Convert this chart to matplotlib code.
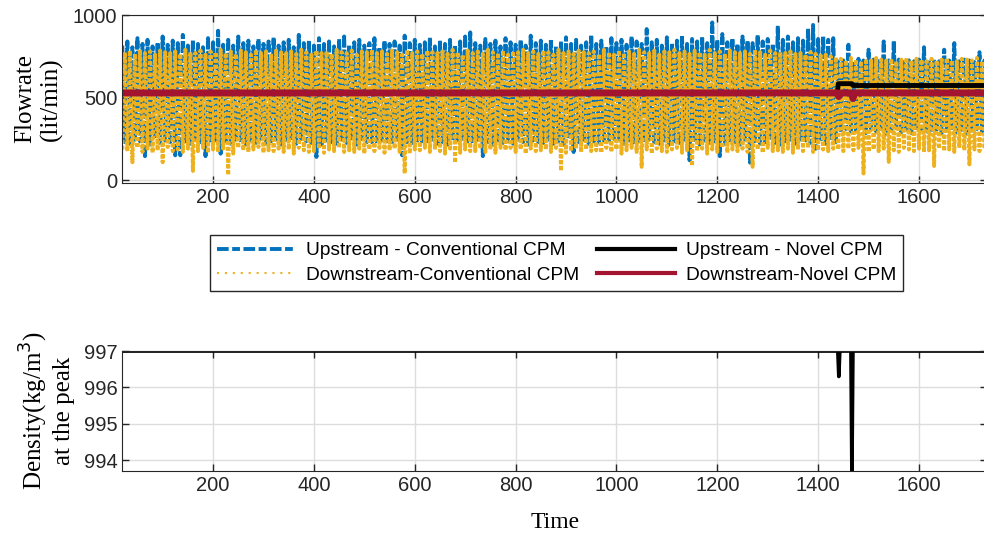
import matplotlib
matplotlib.use("Agg")
import matplotlib.pyplot as plt
from matplotlib.lines import Line2D
import numpy as np

# conventional CPM: alternating peak / trough of each ~10 s swing
up_conv_hi = [
    815, 840, 805, 860, 825, 850, 810, 835, 870, 820,
    845, 830, 880, 815, 850, 825, 805, 860, 835, 905,
    820, 850, 815, 870, 830, 845, 810, 855, 825, 840,
    865, 815, 835, 850, 805, 880, 830, 845, 815, 860,
    825, 840, 810, 855, 870, 820, 835, 850, 815, 830,
    860, 805, 845, 825, 840, 815, 875, 830, 850, 820,
    835, 865, 810, 845, 825, 850, 815, 840, 870, 895,
    830, 815, 855, 825, 845, 810, 860, 835, 820, 850,
    815, 875, 830, 845, 820, 855, 810, 840, 865, 825,
    850, 815, 835, 880, 825, 845, 810, 860, 830, 850,
    820, 870, 840, 825, 915, 835, 850, 815, 865, 830,
    845, 880, 825, 855, 840, 870, 830, 955, 850, 885,
    835, 860, 825, 870, 845, 830, 880, 840, 855, 825,
    935, 850, 870, 835, 860, 845, 920, 940, 855, 875,
    850, 860,
    730, 725, 820, 720, 735, 725, 790, 730, 720, 840,
    725, 845, 730, 715, 725, 720, 730, 805, 725, 730,
    720, 790, 725, 830, 720, 730, 725, 715, 775, 725,
]
up_conv_lo = [
    230, 220, 245, 235, 145, 215, 250, 225, 240, 230,
    150, 150, 235, 220, 245, 230, 145, 240, 225, 160,
    235, 220, 245, 230, 215, 240, 225, 250, 220, 235,
    245, 215, 230, 240, 220, 250, 235, 225, 140, 215,
    240, 230, 220, 245, 225, 235, 215, 250, 230, 230,
    220, 240, 235, 215, 245, 150, 230, 225, 240, 220,
    235, 245, 220, 230, 215, 240, 225, 250, 235, 220,
    245, 145, 230, 215, 240, 225, 235, 220, 245, 230,
    215, 240, 230, 225, 245, 220, 235, 215, 250, 170,
    230, 245, 220, 235, 215, 240, 225, 250, 230, 220,
    240, 215, 235, 225, 245, 230, 220, 240, 215, 235,
    225, 245, 120, 230, 215, 240, 225, 235, 145, 220,
    240, 230, 215, 245, 105, 235, 220, 230, 240, 225,
    215, 235, 245, 220, 230, 240, 225, 190, 235, 220,
    240, 230,
    290, 310, 280, 300, 320, 285, 305, 295, 310, 280,
    300, 315, 290, 305, 285, 300, 310, 295, 290, 305,
    285, 300, 315, 290, 305, 280, 300, 310, 295, 290,
]
down_conv_hi = [
    775, 785, 765, 790, 770, 780, 760, 785, 775, 770,
    780, 765, 790, 775, 770, 785, 760, 780, 775, 790,
    770, 780, 765, 785, 775, 760, 790, 770, 780, 765,
    785, 775, 770, 780, 765, 790, 775, 760, 785, 770,
    780, 765, 790, 775, 770, 785, 760, 780, 775, 790,
    770, 780, 765, 785, 775, 760, 790, 770, 780, 765,
    785, 775, 770, 780, 765, 790, 775, 760, 785, 770,
    780, 765, 790, 775, 770, 785, 760, 780, 775, 790,
    770, 780, 765, 785, 775, 760, 790, 770, 780, 765,
    785, 775, 770, 780, 765, 790, 775, 760, 785, 770,
    780, 765, 790, 775, 770, 785, 760, 780, 775, 790,
    770, 780, 765, 785, 775, 760, 790, 770, 780, 765,
    785, 775, 770, 780, 765, 790, 775, 760, 785, 770,
    775, 770, 780, 765, 770, 760, 775, 765, 755, 760,
    750, 745,
    735, 725, 740, 730, 720, 735, 725, 740, 730, 725,
    735, 720, 730, 740, 725, 735, 730, 720, 735, 725,
    730, 740, 725, 720, 735, 730, 725, 740, 720, 730,
]
down_conv_lo = [
    185, 175, 108, 195, 170, 190, 165, 180, 108, 200,
    175, 185, 170, 190, 55, 175, 195, 165, 185, 170,
    190, 30, 160, 195, 180, 170, 185, 200, 165, 180,
    175, 190, 170, 185, 160, 195, 180, 170, 175, 190,
    165, 185, 175, 195, 170, 180, 170, 190, 160, 185,
    175, 195, 165, 180, 190, 170, 40, 160, 185, 180,
    195, 170, 185, 175, 160, 190, 105, 165, 185, 175,
    175, 190, 170, 185, 165, 195, 180, 195, 170, 185,
    160, 190, 175, 180, 185, 170, 195, 55, 165, 175,
    190, 170, 185, 175, 180, 165, 195, 170, 185, 160,
    180, 195, 170, 80, 185, 160, 190, 175, 170, 185,
    195, 165, 180, 85, 175, 190, 160, 185, 170, 195,
    165, 185, 175, 190, 170, 80, 185, 165, 195, 175,
    180, 170, 190, 165, 185, 175, 195, 170, 180, 185,
    175, 190,
    185, 175, 190, 180, 195, 40, 170, 185, 175, 190,
    110, 180, 170, 195, 185, 175, 190, 170, 180, 85,
    190, 175, 185, 170, 195, 180, 95, 185, 175, 190,
]

# novel CPM
up_novel_t = [20, 1438, 1440, 1467, 1469, 1735]
up_novel = [528, 528, 584, 584, 573, 573]
down_novel_t = [20, 1438, 1441, 1444, 1466, 1469, 1472, 1735]
down_novel = [528, 528, 506, 528, 528, 494, 528, 528]

# density at the peak
dens_t = [20, 1439, 1441, 1443, 1465, 1467, 1469, 1735]
dens = [997, 997, 996.3, 997, 997, 993.5, 997, 997]

xticks = [200, 400, 600, 800, 1000, 1200, 1400, 1600]
labels = ['Upstream - Conventional CPM', 'Downstream-Conventional CPM',
          'Upstream - Novel CPM', 'Downstream-Novel CPM']

BLUE, YELLOW, RED = '#0072BD', '#EDB120', '#A2142F'

# one point every 5 s, peaks and troughs alternating
t_conv = 20 + 5 * np.arange(2 * len(up_conv_hi))
up_conv = np.column_stack([up_conv_hi, up_conv_lo]).ravel()
down_conv = np.column_stack([down_conv_lo, down_conv_hi]).ravel()

plt.rcParams['font.family'] = ['Liberation Sans', 'DejaVu Sans']
serif = {'family': 'Liberation Serif', 'size': 18}

fig = plt.figure(figsize=(9.84, 5.33), dpi=100)
ax1 = fig.add_axes([0.1243, 0.6572, 0.8788, 0.3146])
ax2 = fig.add_axes([0.1243, 0.1163, 0.8788, 0.2251])

ax1.plot(t_conv, up_conv, color=BLUE, lw=2.8, dashes=(3, 0.6, 2, 0.6))
ax1.plot(t_conv, down_conv, color=YELLOW, lw=2.8, dashes=(1, 0.5))
ax1.plot(up_novel_t, up_novel, '-', color='black', lw=3.5)
ax1.plot(down_novel_t, down_novel, '-', color=RED, lw=5)
ax1.set_ylim(-16, 1000)
ax1.set_yticks([0, 500, 1000])
ax1.set_ylabel('Flowrate\n(lit/min)', fontdict=serif)
ax1.yaxis.set_label_coords(-0.0686, 0.5)

ax2.plot(dens_t, dens, '-', color='black', lw=2.6)
ax2.set_ylim(993.7, 997)
ax2.set_yticks([994, 995, 996, 997])
ax2.set_ylabel('Density(kg/m$^3$)\nat the peak', fontdict=serif)
ax2.yaxis.set_label_coords(-0.0547, 0.5)
ax2.set_xlabel('Time', fontdict={'family': 'Liberation Serif', 'size': 17}, labelpad=12)

for ax in (ax1, ax2):
    ax.set_xlim(20, 1735)
    ax.set_xticks(xticks)
    ax.grid(True, color='#dddddd', lw=1)
    ax.set_axisbelow(True)
    ax.tick_params(direction='in', top=True, right=True, length=5,
                   labelsize=14.5, colors='#262626', width=1)
    for s in ax.spines.values():
        s.set_color('#262626')

# legend keys drawn the way the legend shows them
handles = [Line2D([], [], color=BLUE, lw=2.8, dashes=(3, 0.9, 2, 0.9)),
           Line2D([], [], color=YELLOW, lw=1.5, dashes=(1, 2.8)),
           Line2D([], [], color='black', lw=3),
           Line2D([], [], color=RED, lw=3)]
leg = fig.legend(handles, labels,
                 ncol=2, loc='center', bbox_to_anchor=(0.5655, 0.5066),
                 fontsize=13.8, fancybox=False, edgecolor='#262626', framealpha=1,
                 handlelength=4.1, handletextpad=0.55, columnspacing=0.9,
                 labelspacing=0.38, borderpad=0.35)
leg.get_frame().set_linewidth(1)

fig.savefig('out.png', dpi=100)
plt.close(fig)
